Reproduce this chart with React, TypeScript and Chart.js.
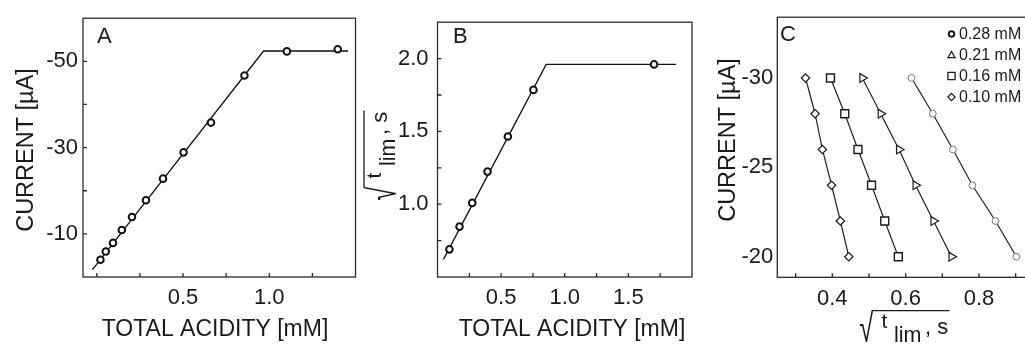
import React, { useEffect, useRef } from 'react';
import { Chart, registerables } from 'chart.js';

Chart.register(...registerables);

const FONT_FAMILY = '"Liberation Sans", Arial, Helvetica, sans-serif';
const INK = '#1a1a1a';
const FRAME = '#2a2a2a';
const CANVAS_W = 1060;
const CANVAS_H = 345;
const Y_AXIS_W = 70;
const X_AXIS_H = 50;
const TICK_LEN = 4;

// ---------- Panel A : current vs total acidity ----------
const A_ACIDITY = [0.021, 0.052, 0.094, 0.145, 0.204, 0.285, 0.384, 0.503, 0.662, 0.856, 1.102, 1.397];
const A_CURRENT = [-4.0, -5.9, -7.9, -10.9, -13.9, -17.8, -22.8, -28.9, -35.8, -46.7, -52.3, -52.8];
const A_FIT_ACIDITY = [-0.025, 0.967, 1.457];
const A_FIT_CURRENT = [-1.7, -52.4, -52.4];
const A_X_TICKS = [0, 0.25, 0.5, 0.75, 1.0, 1.25];
const A_X_LABELS = [0.5, 1.0];
const A_Y_TICKS = [-50, -40, -30, -20, -10];
const A_Y_LABELS = [-50, -30, -10];

// ---------- Panel B : sqrt(t_lim) vs total acidity ----------
const B_ACIDITY = [0.094, 0.173, 0.273, 0.393, 0.553, 0.754, 1.702];
const B_SQRT_T = [0.69, 0.846, 1.009, 1.224, 1.465, 1.785, 1.96];
const B_FIT_ACIDITY = [0.047, 0.854, 1.875];
const B_FIT_SQRT_T = [0.621, 1.96, 1.96];
const B_X_TICKS = [0.25, 0.5, 0.75, 1.0, 1.25, 1.5, 1.75];
const B_X_LABELS = [0.5, 1.0, 1.5];
const B_Y_TICKS = [0.75, 1.0, 1.25, 1.5, 1.75, 2.0];
const B_Y_LABELS = [1.0, 1.5, 2.0];

// ---------- Panel C : current vs sqrt(t_lim) ----------
const C_CURRENT = [-30, -28, -26, -24, -22, -20];
const C_SQRT_T_028 = [0.616, 0.674, 0.729, 0.782, 0.845, 0.902];
const C_SQRT_T_021 = [0.482, 0.532, 0.582, 0.627, 0.676, 0.725];
const C_SQRT_T_016 = [0.395, 0.434, 0.47, 0.507, 0.543, 0.58];
const C_SQRT_T_010 = [0.327, 0.353, 0.373, 0.398, 0.422, 0.445];
const C_SERIES_LABELS = ['0.28 mM', '0.21 mM', '0.16 mM', '0.10 mM'];
const C_X_TICKS = [0.3, 0.4, 0.5, 0.6, 0.7, 0.8, 0.9];
const C_X_LABELS = [0.4, 0.6, 0.8];
const C_Y_TICKS = [-30, -25, -20];

Chart.defaults.font.family = FONT_FAMILY;

const near = (list: number[], v: number) => list.some((l) => Math.abs(l - v) < 1e-9);
const pts = (xs: number[], ys: number[]) => xs.map((x, i) => ({ x, y: ys[i] }));

function text(
  ctx: CanvasRenderingContext2D,
  s: string,
  x: number,
  y: number,
  size: number,
  align: CanvasTextAlign = 'left',
  rotated = false
) {
  ctx.save();
  ctx.translate(x, y);
  if (rotated) ctx.rotate(-Math.PI / 2);
  ctx.font = `${size}px ${FONT_FAMILY}`;
  ctx.fillStyle = INK;
  ctx.textAlign = align;
  ctx.textBaseline = 'alphabetic';
  ctx.fillText(s, 0, 0);
  ctx.restore();
}

function drawSqrtLabel(ctx: CanvasRenderingContext2D, ox: number, oy: number, rotated: boolean) {
  ctx.save();
  ctx.translate(ox, oy);
  if (rotated) ctx.rotate(-Math.PI / 2);
  ctx.fillStyle = INK;
  ctx.strokeStyle = INK;
  const RAD_W = 13.5;
  const RAD_H = 33.5;
  ctx.font = `40px ${FONT_FAMILY}`;
  ctx.textBaseline = 'alphabetic';
  ctx.textAlign = 'left';
  const m = ctx.measureText('√');
  const inkL = -m.actualBoundingBoxLeft;
  const inkR = m.actualBoundingBoxRight;
  const inkT = -m.actualBoundingBoxAscent;
  const inkB = m.actualBoundingBoxDescent;
  const sx = RAD_W / Math.max(1, inkR - inkL);
  const sy = RAD_H / Math.max(1, inkB - inkT);
  ctx.save();
  ctx.scale(sx, sy);
  ctx.fillText('√', -inkL, -inkT);
  ctx.restore();
  ctx.lineWidth = 1.3;
  ctx.beginPath();
  ctx.moveTo(RAD_W - 1, 0.7);
  ctx.lineTo(89.5, 0.7);
  ctx.stroke();
  ctx.font = `21px ${FONT_FAMILY}`;
  ctx.fillText('t', 21.5, 18);
  ctx.font = `21.5px ${FONT_FAMILY}`;
  ctx.fillText('lim', 34, 31.5);
  ctx.font = `22px ${FONT_FAMILY}`;
  ctx.fillText(', s', 65, 23.5);
  ctx.restore();
}

function drawLegendSymbol(ctx: CanvasRenderingContext2D, kind: string, x: number, y: number) {
  ctx.save();
  ctx.strokeStyle = INK;
  ctx.fillStyle = '#fff';
  ctx.beginPath();
  if (kind === 'circle') {
    ctx.lineWidth = 2;
    ctx.arc(x, y, 2.8, 0, Math.PI * 2);
  } else if (kind === 'triangle') {
    ctx.lineWidth = 1.2;
    ctx.moveTo(x, y - 3.5);
    ctx.lineTo(x + 3.6, y + 2.6);
    ctx.lineTo(x - 3.6, y + 2.6);
    ctx.closePath();
  } else if (kind === 'square') {
    ctx.lineWidth = 1.3;
    ctx.rect(x - 3.6, y - 3.6, 7.2, 7.2);
  } else {
    ctx.lineWidth = 1.2;
    ctx.moveTo(x, y - 3.6);
    ctx.lineTo(x + 3.6, y);
    ctx.lineTo(x, y + 3.6);
    ctx.lineTo(x - 3.6, y);
    ctx.closePath();
  }
  ctx.fill();
  ctx.stroke();
  ctx.restore();
}

type Box = { l: number; t: number; r: number; b: number };

type PanelSpec = {
  box: Box;
  xMin: number;
  xMax: number;
  yMin: number;
  yMax: number;
  yReverse: boolean;
  xTicks: number[];
  xLabels: number[];
  yTicks: number[];
  yLabels: number[];
  yTickMarks: boolean;
  yFmt: (v: number) => string;
  yPad: number;
  xPad: number;
  datasets: any[];
  deco: (ctx: CanvasRenderingContext2D, chart: any) => void;
};

function buildConfig(p: PanelSpec): any {
  const framePlugin = {
    id: 'frameDeco',
    afterDraw(chart: any) {
      const { ctx, chartArea: a, scales } = chart;
      ctx.save();
      ctx.strokeStyle = FRAME;
      ctx.lineWidth = 1.3;
      ctx.strokeRect(a.left, a.top, a.right - a.left, a.bottom - a.top);
      ctx.beginPath();
      for (const v of p.xTicks) {
        const px = scales.x.getPixelForValue(v);
        ctx.moveTo(px, a.bottom);
        ctx.lineTo(px, a.bottom - TICK_LEN);
      }
      if (p.yTickMarks) {
        for (const v of p.yTicks) {
          const py = scales.y.getPixelForValue(v);
          ctx.moveTo(a.left, py);
          ctx.lineTo(a.left + TICK_LEN, py);
        }
      }
      ctx.stroke();
      ctx.restore();
      p.deco(ctx, chart);
    },
  };

  return {
    type: 'scatter',
    data: { datasets: p.datasets },
    options: {
      responsive: false,
      animation: false,
      events: [],
      layout: {
        padding: {
          left: p.box.l - Y_AXIS_W,
          top: p.box.t,
          right: CANVAS_W - p.box.r,
          bottom: CANVAS_H - p.box.b - X_AXIS_H,
        },
      },
      plugins: { legend: { display: false }, tooltip: { enabled: false } },
      scales: {
        x: {
          type: 'linear',
          position: 'bottom',
          min: p.xMin,
          max: p.xMax,
          afterBuildTicks: (s: any) => {
            s.ticks = p.xTicks.map((v) => ({ value: v }));
          },
          afterFit: (s: any) => {
            s.height = X_AXIS_H;
          },
          grid: { display: false, drawTicks: false },
          border: { display: false },
          ticks: {
            autoSkip: false,
            maxRotation: 0,
            minRotation: 0,
            padding: p.xPad,
            color: INK,
            font: { size: 22, family: FONT_FAMILY },
            callback: (v: number) => (near(p.xLabels, v) ? v.toFixed(1) : ''),
          },
        },
        y: {
          type: 'linear',
          position: 'left',
          min: p.yMin,
          max: p.yMax,
          reverse: p.yReverse,
          afterBuildTicks: (s: any) => {
            s.ticks = p.yTicks.map((v) => ({ value: v }));
          },
          afterFit: (s: any) => {
            s.width = Y_AXIS_W;
          },
          grid: { display: false, drawTicks: false },
          border: { display: false },
          ticks: {
            autoSkip: false,
            padding: p.yPad,
            color: INK,
            font: { size: 22, family: FONT_FAMILY },
            callback: (v: number) => (near(p.yLabels, v) ? p.yFmt(v) : ''),
          },
        },
      },
    },
    plugins: [framePlugin],
  };
}

const boldCircles = (data: any[]) => ({
  data,
  showLine: false,
  pointStyle: 'circle',
  pointRadius: 3.3,
  pointBorderWidth: 2,
  pointBorderColor: '#111',
  pointBackgroundColor: '#fff',
});

const fitLine = (data: any[]) => ({
  data,
  showLine: true,
  borderColor: '#111',
  borderWidth: 1.3,
  pointRadius: 0,
  tension: 0,
  fill: false,
});

const cSeries = (data: any[], style: string, radius: number, rotation: number, color: string, bw: number) => ({
  data,
  showLine: true,
  borderColor: '#222',
  borderWidth: 1.2,
  tension: 0,
  fill: false,
  pointStyle: style,
  pointRadius: radius,
  pointRotation: rotation,
  pointBorderColor: color,
  pointBorderWidth: bw,
  pointBackgroundColor: '#fff',
});

const PANEL_A: PanelSpec = {
  box: { l: 83, t: 14, r: 355.5, b: 277 },
  xMin: -0.08,
  xMax: 1.5,
  yMin: -60,
  yMax: 0,
  yReverse: true,
  xTicks: A_X_TICKS,
  xLabels: A_X_LABELS,
  yTicks: A_Y_TICKS,
  yLabels: A_Y_LABELS,
  yTickMarks: true,
  yFmt: (v) => String(v),
  yPad: 5,
  xPad: 8,
  datasets: [boldCircles(pts(A_ACIDITY, A_CURRENT)), fitLine(pts(A_FIT_ACIDITY, A_FIT_CURRENT))],
  deco: (ctx) => {
    text(ctx, 'A', 97, 43, 22);
    text(ctx, 'TOTAL ACIDITY [mM]', 215, 336, 23, 'center');
    text(ctx, 'CURRENT [µA]', 33, 150, 23.5, 'center', true);
  },
};

const PANEL_B: PanelSpec = {
  box: { l: 437.5, t: 15, r: 692, b: 277 },
  xMin: 0,
  xMax: 2.0,
  yMin: 0.5,
  yMax: 2.25,
  yReverse: false,
  xTicks: B_X_TICKS,
  xLabels: B_X_LABELS,
  yTicks: B_Y_TICKS,
  yLabels: B_Y_LABELS,
  yTickMarks: true,
  yFmt: (v) => v.toFixed(1),
  yPad: 9,
  xPad: 8,
  datasets: [boldCircles(pts(B_ACIDITY, B_SQRT_T)), fitLine(pts(B_FIT_ACIDITY, B_FIT_SQRT_T))],
  deco: (ctx) => {
    text(ctx, 'B', 453, 43, 22);
    text(ctx, 'TOTAL ACIDITY [mM]', 572, 336, 23, 'center');
    drawSqrtLabel(ctx, 363.3, 200, true);
  },
};

const C_SYMBOLS = ['circle', 'triangle', 'square', 'diamond'];

const PANEL_C: PanelSpec = {
  box: { l: 777.3, t: 15.7, r: 1034, b: 277.3 },
  xMin: 0.25,
  xMax: 0.95,
  yMin: -33.4,
  yMax: -18.85,
  yReverse: true,
  xTicks: C_X_TICKS,
  xLabels: C_X_LABELS,
  yTicks: C_Y_TICKS,
  yLabels: C_Y_TICKS,
  yTickMarks: false,
  yFmt: (v) => String(v),
  yPad: 4,
  xPad: 8,
  datasets: [
    cSeries(pts(C_SQRT_T_028, C_CURRENT), 'circle', 3.4, 0, '#777', 1),
    cSeries(pts(C_SQRT_T_021, C_CURRENT), 'triangle', 5, 90, '#1a1a1a', 1.2),
    cSeries(pts(C_SQRT_T_016, C_CURRENT), 'rect', 5.6, 0, '#1a1a1a', 1.4),
    cSeries(pts(C_SQRT_T_010, C_CURRENT), 'rectRot', 4.2, 0, '#1a1a1a', 1.2),
  ],
  deco: (ctx) => {
    text(ctx, 'C', 780, 41, 22);
    text(ctx, 'CURRENT [µA]', 735, 140, 23.5, 'center', true);
    drawSqrtLabel(ctx, 860, 310, false);
    const rows = [34, 55, 76, 97];
    C_SERIES_LABELS.forEach((label, i) => {
      drawLegendSymbol(ctx, C_SYMBOLS[i], 951.5, rows[i]);
      ctx.save();
      ctx.font = `16px ${FONT_FAMILY}`;
      ctx.fillStyle = INK;
      ctx.textAlign = 'left';
      ctx.textBaseline = 'middle';
      ctx.fillText(label, 959, rows[i] + 0.5);
      ctx.restore();
    });
  },
};

function PanelChart({ spec }: { spec: PanelSpec }) {
  const ref = useRef<HTMLCanvasElement>(null);
  useEffect(() => {
    const chart = new Chart(ref.current as HTMLCanvasElement, buildConfig(spec));
    return () => chart.destroy();
  }, [spec]);
  return (
    <canvas
      ref={ref}
      width={CANVAS_W}
      height={CANVAS_H}
      style={{ position: 'absolute', left: 0, top: 0, width: CANVAS_W, height: CANVAS_H }}
    />
  );
}

export default function App() {
  return (
    <div
      style={{
        position: 'absolute',
        left: 0,
        top: 0,
        width: 1025,
        height: 345,
        overflow: 'hidden',
        background: '#fff',
      }}
    >
      <PanelChart spec={PANEL_A} />
      <PanelChart spec={PANEL_B} />
      <PanelChart spec={PANEL_C} />
    </div>
  );
}
